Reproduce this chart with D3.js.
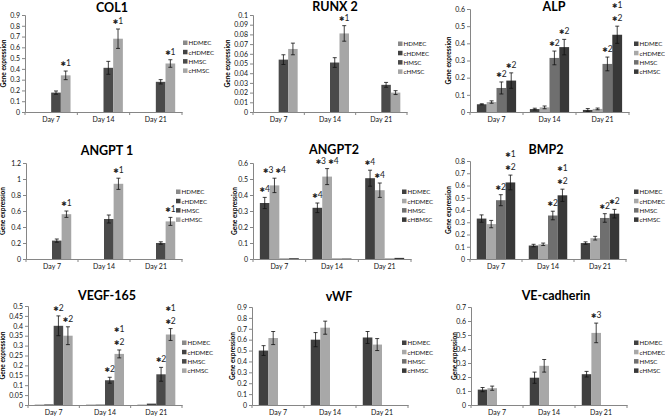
<!DOCTYPE html>
<html>
<head>
<meta charset="utf-8">
<script src="https://cdn.jsdelivr.net/npm/d3@7"></script>
<style>
body { margin: 0; background: #fff; }
svg { font-family: Lato, "Open Sans", "DejaVu Sans", sans-serif; }
</style>
</head>
<body>
<div id="chart"></div>
<script>
// categories and series
var days = ["Day 7", "Day 14", "Day 21"];
var seriesNames = ["HDMEC", "cHDMEC", "HMSC", "cHMSC"];
var angpt2Names = ["HDMEC", "cHDMEC", "HMSC", "cHBMSC"];
var titles = ["COL1", "RUNX 2", "ALP", "ANGPT 1", "ANGPT2", "BMP2", "VEGF-165", "vWF", "VE-cadherin"];
var yMaxes = [0.9, 0.1, 0.6, 1.2, 0.6, 0.8, 0.5, 0.9, 0.7];
var ySteps = [0.1, 0.01, 0.1, 0.2, 0.1, 0.1, 0.05, 0.1, 0.1];

// values per series (HDMEC, cHDMEC, HMSC, cHMSC), one number per day
var col1Vals = [[0, 0, 0], [0, 0, 0], [0.18, 0.41, 0.28], [0.34, 0.68, 0.45]];
var col1Errs = [[0, 0, 0], [0, 0, 0], [0.015, 0.06, 0.02], [0.04, 0.09, 0.035]];
var col1Stars = [[3, 0, "✱1"], [3, 1, "✱1"], [3, 2, "✱1"]];

var runx2Vals = [[0, 0, 0], [0, 0, 0], [0.054, 0.051, 0.028], [0.065, 0.081, 0.020]];
var runx2Errs = [[0, 0, 0], [0, 0, 0], [0.005, 0.005, 0.0025], [0.006, 0.008, 0.002]];
var runx2Stars = [[3, 1, "✱1"]];

var alpVals = [[0.045, 0.017, 0.012], [0.058, 0.027, 0.018], [0.14, 0.315, 0.28], [0.183, 0.378, 0.45]];
var alpErrs = [[0.003, 0.005, 0.008], [0.007, 0.008, 0.005], [0.035, 0.04, 0.04], [0.045, 0.045, 0.05]];
var alpStars = [[2, 0, "✱2"], [3, 0, "✱2"], [2, 1, "✱2"], [3, 1, "✱2"], [2, 2, "✱2"], [3, 2, "✱1|✱2"]];

var angpt1Vals = [[0, 0, 0], [0, 0, 0], [0.23, 0.5, 0.2], [0.56, 0.94, 0.47]];
var angpt1Errs = [[0, 0, 0], [0, 0, 0], [0.02, 0.05, 0.015], [0.04, 0.07, 0.05]];
var angpt1Stars = [[3, 0, "✱1"], [3, 1, "✱1"], [3, 2, "✱1"]];

var angpt2Vals = [[0.35, 0.32, 0.505], [0.46, 0.515, 0.43], [0.003, 0.003, 0.003], [0.005, 0.003, 0.007]];
var angpt2Errs = [[0.035, 0.03, 0.05], [0.045, 0.05, 0.045], [0, 0, 0], [0, 0, 0]];
var angpt2Stars = [[0, 0, "✱4"], [1, 0, "✱3 ✱4"], [0, 1, "✱4"], [1, 1, "✱3 ✱4"], [0, 2, "✱4"], [1, 2, "✱4"]];

var bmp2Vals = [[0.33, 0.11, 0.13], [0.285, 0.12, 0.17], [0.48, 0.355, 0.335], [0.625, 0.52, 0.37]];
var bmp2Errs = [[0.03, 0.01, 0.01], [0.03, 0.01, 0.015], [0.045, 0.035, 0.035], [0.06, 0.05, 0.035]];
var bmp2Stars = [[2, 0, "✱2"], [3, 0, "✱1|✱2"], [2, 1, "✱2"], [3, 1, "✱1|✱2"], [2, 2, "✱2"], [3, 2, "✱2"]];

var vegfVals = [[0.002, 0.002, 0.002], [0.003, 0.002, 0.007], [0.40, 0.125, 0.155], [0.35, 0.258, 0.356]];
var vegfErrs = [[0, 0, 0], [0, 0, 0], [0.05, 0.015, 0.035], [0.045, 0.02, 0.03]];
var vegfStars = [[2, 0, "✱2"], [3, 0, "✱2"], [2, 1, "✱2"], [3, 1, "✱1|✱2"], [2, 2, "✱2"], [3, 2, "✱1|✱2"]];

var vwfVals = [[0.50, 0.60, 0.62], [0.615, 0.71, 0.555], [0, 0, 0], [0, 0, 0]];
var vwfErrs = [[0.045, 0.065, 0.055], [0.06, 0.06, 0.055], [0, 0, 0], [0, 0, 0]];
var vwfStars = [];

var vecadVals = [[0.11, 0.195, 0.22], [0.12, 0.28, 0.515], [0, 0, 0], [0, 0, 0]];
var vecadErrs = [[0.015, 0.04, 0.02], [0.015, 0.045, 0.07], [0, 0, 0], [0, 0, 0]];
var vecadStars = [[1, 2, "✱3"]];

var allVals = [col1Vals, runx2Vals, alpVals, angpt1Vals, angpt2Vals, bmp2Vals, vegfVals, vwfVals, vecadVals];
var allErrs = [col1Errs, runx2Errs, alpErrs, angpt1Errs, angpt2Errs, bmp2Errs, vegfErrs, vwfErrs, vecadErrs];
var allStars = [col1Stars, runx2Stars, alpStars, angpt1Stars, angpt2Stars, bmp2Stars, vegfStars, vwfStars, vecadStars];

// layout (pixels): plot frame [left, right, top, bottom], title [x, baseline], legend [x, y], y-label x
var frames = [[25, 182, 15, 112], [253, 407, 15, 112], [470, 629, 9, 112],
              [26, 182, 163, 259], [253, 411, 163, 259], [470, 626, 161, 259],
              [28, 182, 306, 405], [252, 408, 307, 405], [471, 627, 307, 405]];
var titlePos = [[112, 12], [335, 11], [554, 11], [107, 155], [334, 154], [546, 154], [107, 300], [339, 301], [556, 300]];
var legendPos = [[183, 43], [398, 44], [634, 44], [176, 192], [402, 192], [634, 192], [182, 343], [402, 343], [634, 343]];
var ylabX = [6, 230, 451, 5, 237, 451, 5, 235, 457];

var paletteA = ["#8a8a8a", "#424242", "#4a4a4a", "#a6a6a6"]; // dark + light pairs
var paletteB = ["#404040", "#a8a8a8", "#6f6f6f", "#383838"]; // four-tone
var palettes = [paletteA, paletteA, paletteB, paletteA, paletteB, paletteB, paletteA, paletteB, paletteB];

var axisColor = "#868686";
var fmt = function(d) { return String(+d.toFixed(3)); };

var svg = d3.select("#chart").append("svg")
    .attr("width", 665)
    .attr("height", 416);

titles.forEach(function(title, i) {
    var f = frames[i];
    var left = f[0], right = f[1], top = f[2], bottom = f[3];
    var colors = palettes[i];
    var names = i === 4 ? angpt2Names : seriesNames;
    var g = svg.append("g");

    var x0 = d3.scaleBand().domain(days).range([left, right]);
    var x1 = d3.scaleBand().domain(d3.range(4))
        .range([x0.bandwidth() * 0.13, x0.bandwidth() * 0.87]);
    var y = d3.scaleLinear().domain([0, yMaxes[i]]).range([bottom, top]);
    var ticks = d3.range(0, yMaxes[i] + ySteps[i] / 2, ySteps[i]);

    // title
    g.append("text")
        .attr("x", titlePos[i][0]).attr("y", titlePos[i][1])
        .attr("text-anchor", "middle")
        .attr("font-size", 12.5).attr("font-weight", "bold")
        .text(title);

    // y label
    g.append("text")
        .attr("transform", "translate(" + ylabX[i] + "," + ((top + bottom) / 2) + ") rotate(-90)")
        .attr("text-anchor", "middle")
        .attr("font-size", 6.5).attr("font-weight", "bold")
        .text("Gene expression");

    // bars
    var vals = allVals[i], errs = allErrs[i];
    vals.forEach(function(row, s) {
        row.forEach(function(v, d) {
            if (v <= 0) return;
            var bx = x0(days[d]) + x1(s);
            g.append("rect")
                .attr("x", bx).attr("y", y(v))
                .attr("width", x1.bandwidth())
                .attr("height", Math.max(0.6, bottom - y(v)))
                .attr("fill", colors[s]);
            var e = errs[s][d];
            if (e > 0) {
                var cx = bx + x1.bandwidth() / 2;
                var eg = g.append("g").attr("stroke", "#111").attr("stroke-width", 0.8);
                eg.append("line").attr("x1", cx).attr("x2", cx).attr("y1", y(v - e)).attr("y2", y(v + e));
                eg.append("line").attr("x1", cx - 2).attr("x2", cx + 2).attr("y1", y(v - e)).attr("y2", y(v - e));
                eg.append("line").attr("x1", cx - 2).attr("x2", cx + 2).attr("y1", y(v + e)).attr("y2", y(v + e));
            }
        });
    });

    // significance marks: small star glyph + number
    allStars[i].forEach(function(st) {
        var s = st[0], d = st[1];
        var lines = st[2].split("|");
        var v = vals[s][d] + errs[s][d];
        var cx = x0(days[d]) + x1(s) + x1.bandwidth() / 2;
        lines.forEach(function(t, k) {
            var txt = g.append("text")
                .attr("x", cx)
                .attr("y", y(v) - 5 - (lines.length - 1 - k) * 13)
                .attr("text-anchor", "middle")
                .attr("font-size", 8.5)
                .attr("fill", "#222");
            t.split(/(✱)/).forEach(function(part) {
                if (!part) return;
                txt.append("tspan")
                    .attr("font-size", part === "✱" ? 6.5 : 8.5)
                    .attr("font-family", part === "✱" ? "DejaVu Sans" : null)
                    .text(part);
            });
        });
    });

    // y axis
    var ya = g.append("g")
        .attr("transform", "translate(" + left + ",0)")
        .call(d3.axisLeft(y).tickValues(ticks).tickSize(3).tickPadding(2).tickFormat(fmt));
    ya.selectAll("path, line").attr("stroke", axisColor);
    ya.selectAll("text").attr("font-size", 7).attr("fill", "#111")
        .attr("font-family", "Lato, 'Open Sans', sans-serif");

    // x axis
    var xa = g.append("g")
        .attr("transform", "translate(0," + bottom + ")")
        .call(d3.axisBottom(x0).tickSize(0).tickPadding(5));
    xa.selectAll("path").attr("stroke", axisColor);
    xa.selectAll("text").attr("font-size", 7).attr("fill", "#111")
        .attr("font-family", "Lato, 'Open Sans', sans-serif");
    var bounds = days.map(function(d) { return x0(d); }).concat([right]);
    xa.selectAll(".sep").data(bounds).enter().append("line")
        .attr("class", "sep")
        .attr("x1", function(d) { return d; }).attr("x2", function(d) { return d; })
        .attr("y1", 0).attr("y2", 3)
        .attr("stroke", axisColor);

    // legend
    var lg = g.append("g").attr("transform", "translate(" + legendPos[i][0] + "," + legendPos[i][1] + ")");
    names.forEach(function(n, k) {
        lg.append("rect")
            .attr("x", 0).attr("y", k * 9.3 - 2.5)
            .attr("width", 4.5).attr("height", 4.5)
            .attr("fill", colors[k]);
        lg.append("text")
            .attr("x", 5.5).attr("y", k * 9.3 + 2.3)
            .attr("font-size", 6.2).attr("fill", "#111")
            .text(n);
    });
});
</script>
</body>
</html>
